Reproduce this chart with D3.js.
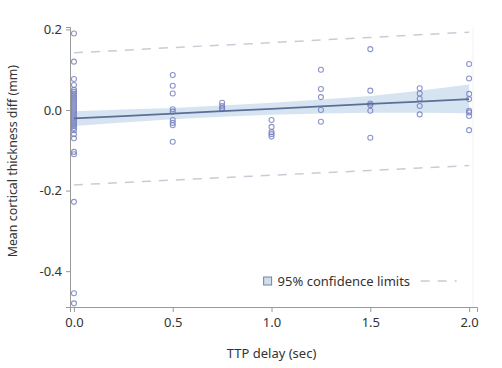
<!DOCTYPE html>
<html>
<head>
<meta charset="utf-8">
<script src="https://cdn.jsdelivr.net/npm/d3@7"></script>
<style>
  body { margin: 0; background: #fff; }
  text { font-family: "Noto Sans", sans-serif; fill: #333; }
</style>
</head>
<body>
<div id="plot"></div>
<script>
const delays = [0, 0.5, 0.75, 1.0, 1.25, 1.5, 1.75, 2.0];
const diffs = [
  [0.19, 0.12, 0.077, 0.062, 0.05, 0.045, 0.04, 0.035, 0.03, 0.025, 0.02, 0.015, 0.01, 0.005, 0,
   -0.005, -0.01, -0.015, -0.02, -0.025, -0.03, -0.035, -0.04, -0.045, -0.05, -0.06, -0.07,
   -0.104, -0.11, -0.228, -0.455, -0.48],
  [0.087, 0.06, 0.041, 0.002, -0.004, -0.025, -0.032, -0.038, -0.079],
  [0.018, 0.01, 0.005, 0.002],
  [-0.025, -0.042, -0.055, -0.06, -0.066],
  [0.1, 0.052, 0.032, 0, -0.029],
  [0.151, 0.048, 0.016, 0.012, -0.002, -0.069],
  [0.054, 0.041, 0.028, 0.01, -0.011],
  [0.114, 0.078, 0.04, 0.027, -0.002, -0.006, -0.015, -0.05]
];

// fitted line, confidence band and prediction limits
const fitX = [0, 0.25, 0.5, 0.75, 1.0, 1.25, 1.5, 1.75, 2.0];
const fitY = [-0.021, -0.015, -0.009, -0.003, 0.003, 0.009, 0.015, 0.021, 0.027];
const ciLow = [-0.040, -0.031, -0.023, -0.017, -0.012, -0.009, -0.007, -0.007, -0.008];
const ciHigh = [-0.003, 0.001, 0.005, 0.011, 0.018, 0.026, 0.035, 0.048, 0.063];
const piLow = [-0.186, -0.180, -0.174, -0.168, -0.162, -0.156, -0.150, -0.144, -0.138];
const piHigh = [0.142, 0.148, 0.155, 0.161, 0.167, 0.174, 0.180, 0.187, 0.193];

const xTicks = [0, 0.5, 1.0, 1.5, 2.0];
const yTicks = [0.2, 0.0, -0.2, -0.4];

const margin = {top: 27, right: 25, bottom: 61, left: 70};
const width = 502 - margin.left - margin.right;
const height = 368 - margin.top - margin.bottom;

const svg = d3.select("#plot")
  .append("svg")
  .attr("width", 502)
  .attr("height", 368)
  .append("g")
  .attr("transform", `translate(${margin.left}, ${margin.top})`);

const x = d3.scaleLinear().domain([-0.02, 2.04]).range([0, width]);
const y = d3.scaleLinear().domain([-0.489, 0.206]).range([height, 0]);

// faint right border
svg.append("line")
  .attr("x1", width - 4).attr("x2", width - 4)
  .attr("y1", 0).attr("y2", height)
  .attr("stroke", "#f2f2f4");

// confidence band
const band = fitX.map((v, i) => ({x: v, lo: ciLow[i], hi: ciHigh[i]}));
svg.append("path")
  .datum(band)
  .attr("fill", "#cfdff0")
  .attr("opacity", 0.85)
  .attr("d", d3.area()
    .x(d => x(d.x))
    .y0(d => y(d.lo))
    .y1(d => y(d.hi)));

// prediction limits
[piLow, piHigh].forEach(arr => {
  svg.append("path")
    .datum(fitX.map((v, i) => [v, arr[i]]))
    .attr("fill", "none")
    .attr("stroke", "#c9cbd8")
    .attr("stroke-width", 1.5)
    .attr("stroke-dasharray", "9,8")
    .attr("d", d3.line().x(d => x(d[0])).y(d => y(d[1])));
});

// points
const pts = [];
delays.forEach((d, i) => diffs[i].forEach(v => pts.push({x: d, y: v})));
svg.selectAll("circle.pt")
  .data(pts)
  .enter()
  .append("circle")
  .attr("class", "pt")
  .attr("cx", d => x(d.x))
  .attr("cy", d => y(d.y))
  .attr("r", 2.5)
  .attr("fill", "none")
  .attr("stroke", "#7882bf")
  .attr("stroke-opacity", 0.85)
  .attr("stroke-width", 1.1);

// fitted line
svg.append("path")
  .datum(fitX.map((v, i) => [v, fitY[i]]))
  .attr("fill", "none")
  .attr("stroke", "#5b6e96")
  .attr("stroke-width", 1.8)
  .attr("d", d3.line().x(d => x(d[0])).y(d => y(d[1])));

// axes
const xAxis = svg.append("g")
  .attr("transform", `translate(0, ${height})`)
  .call(d3.axisBottom(x).tickValues(xTicks).tickFormat(d3.format(".1f")).tickSize(5).tickPadding(6));
const yAxis = svg.append("g")
  .call(d3.axisLeft(y).tickValues(yTicks).tickFormat(d => d3.format(".1f")(d).replace("−", "-")).tickSize(4).tickPadding(4));
[xAxis, yAxis].forEach(a => {
  a.select(".domain").attr("stroke", "#999");
  a.selectAll(".tick line").attr("stroke", "#999");
  a.selectAll(".tick text")
    .attr("fill", "#333")
    .style("font-family", '"Noto Sans", sans-serif')
    .style("font-size", "13px");
});

// axis titles
svg.append("text")
  .attr("x", x(1.0))
  .attr("y", height + 51)
  .attr("text-anchor", "middle")
  .attr("font-size", "13px")
  .text("TTP delay (sec)");

svg.append("text")
  .attr("transform", `translate(${-53}, ${y(-0.127)}) rotate(-90)`)
  .attr("text-anchor", "middle")
  .attr("font-size", "12.4px")
  .text("Mean cortical thickness diff (mm)");

// legend
const leg = svg.append("g").attr("transform", `translate(${x(0.96)}, ${height - 26})`);
leg.append("rect")
  .attr("x", 0).attr("y", -4)
  .attr("width", 8).attr("height", 8)
  .attr("fill", "#cfdff0")
  .attr("stroke", "#7a8094");
leg.append("text")
  .attr("x", 14).attr("y", 5)
  .attr("font-size", "13px")
  .text("95% confidence limits");
leg.append("line")
  .attr("x1", 157).attr("x2", 193)
  .attr("y1", 0).attr("y2", 0)
  .attr("stroke", "#c9cbd8")
  .attr("stroke-width", 1.5)
  .attr("stroke-dasharray", "9,8");
</script>
</body>
</html>
